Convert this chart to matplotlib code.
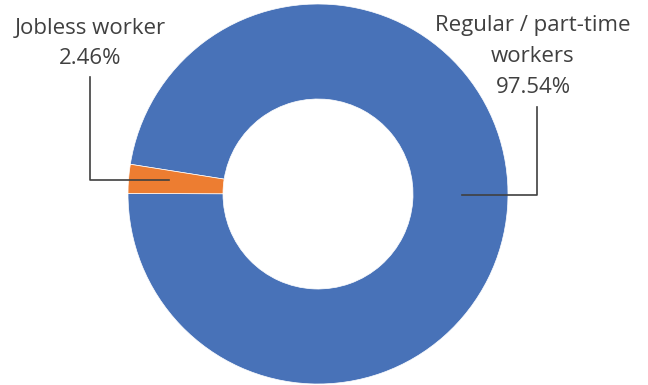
import numpy as np
import matplotlib.pyplot as plt

labels = ["Regular / part-time\nworkers", "Jobless worker"]
shares = [97.54, 2.46]
colors = ["#4872B8", "#ED7D31"]

W, H = 648, 385
fig = plt.figure(figsize=(W / 100, H / 100), dpi=100)
ax = fig.add_axes([0, 0, 1, 1])
ax.set_xlim(0, W)
ax.set_ylim(0, H)
ax.set_aspect("equal")
ax.axis("off")

cx, cy, R = 318, 191, 190
wedges, _ = ax.pie(shares, colors=colors, startangle=171, counterclock=False,
                   center=(cx, cy), radius=R,
                   wedgeprops=dict(width=R * 0.5, edgecolor="white", linewidth=0.5))
ax.set_xlim(0, W)
ax.set_ylim(0, H)

txt = dict(fontsize=16, color="#404040", ha="center", va="center",
           family=["Open Sans", "DejaVu Sans"], linespacing=1.62)
line = dict(color="#404040", lw=1.2)

# Jobless worker callout
ax.text(90, H - 43.5, f"{labels[1]}\n{shares[1]:.2f}%", **txt)
ax.plot([169, 90, 90], [H - 180, H - 180, H - 77], **line)

# Regular / part-time callout
ax.text(533, H - 56.5, f"{labels[0]}\n{shares[0]:.2f}%", **txt)
ax.plot([462, 537, 537], [H - 195, H - 195, H - 107], **line)

fig.savefig("out.png", dpi=100)
